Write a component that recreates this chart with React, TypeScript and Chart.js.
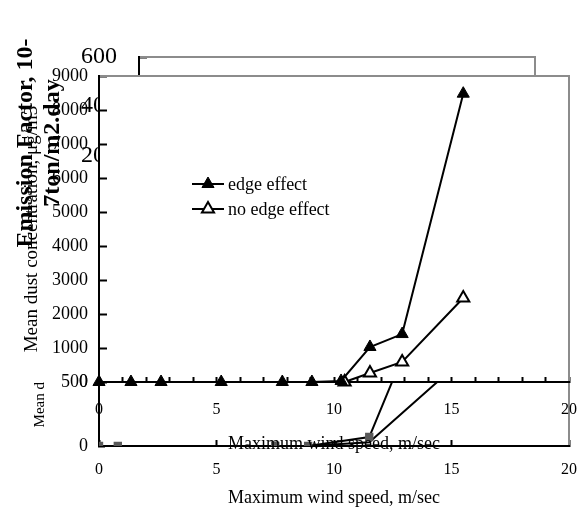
import React, { useEffect, useRef } from 'react';
import { Chart, registerables } from 'chart.js';

Chart.register(...registerables);

const FONT = "'Liberation Serif', 'Times New Roman', serif";

// Panel A: mean dust concentration vs wind speed
const windEdge = [0, 1.36, 2.64, 5.2, 7.8, 9.06, 10.3, 11.53, 12.9, 15.5];
const dustEdge = [0, 0, 0, 0, 0, 0, 30, 1030, 1410, 8480];
const windNoEdge = [10.45, 11.53, 12.9, 15.5];
const dustNoEdge = [0, 265, 590, 2470];
const dustTicks = [0, 1000, 2000, 3000, 4000, 5000, 6000, 7000, 8000, 9000];
const windMinorTicks = [0, 1, 2, 3, 4, 5, 6, 7, 8, 9, 10, 11, 12, 13, 14, 15, 16, 17, 18, 19, 20];
const windTickLabels = ['0', '5', '10', '15', '20'];

// Panel B: emission factor (lower strip)
const windB = [0, 0.8, 7.5, 8.9, 11.5, 12.9, 15.5];
const emisB = [0, 0, 0, 0, 70, 690, 3000];
const windB2 = [8.9, 11.5, 15.5];
const emisB2 = [0, 30, 680];
const emisBTicks = [0, 500];
const windMajorTicks = [0, 5, 10, 15, 20];

// Panel C: emission factor (upper panel, mostly hidden)
const emisCTicks = [0, 200, 400, 600];

const pts = (xs: number[], ys: number[]) => xs.map((x, i) => ({ x, y: ys[i] }));

const GRAY = '#8c8c8c';

function framePlugin(fillWhite: boolean, drawTop: boolean) {
  return {
    id: 'frame',
    beforeDraw(chart: any) {
      if (!fillWhite) return;
      const { left, top, width, height } = chart.chartArea;
      const ctx = chart.ctx;
      ctx.save();
      ctx.fillStyle = '#fff';
      ctx.fillRect(left, top, width, height);
      ctx.restore();
    },
    beforeDatasetsDraw(chart: any) {
      const { left, top, right, bottom } = chart.chartArea;
      const ctx = chart.ctx;
      ctx.save();
      ctx.strokeStyle = GRAY;
      ctx.lineWidth = 2;
      ctx.beginPath();
      if (drawTop) {
        ctx.moveTo(left + 1, top);
        ctx.lineTo(right, top);
      } else {
        ctx.moveTo(right, top);
      }
      ctx.lineTo(right, bottom - 1);
      ctx.stroke();
      ctx.restore();
    },
  };
}

function triangle(ctx: CanvasRenderingContext2D, x: number, y: number, r: number) {
  let rad = 0;
  ctx.beginPath();
  ctx.moveTo(x + Math.sin(rad) * r, y - Math.cos(rad) * r);
  rad += (2 * Math.PI) / 3;
  ctx.lineTo(x + Math.sin(rad) * r, y - Math.cos(rad) * r);
  rad += (2 * Math.PI) / 3;
  ctx.lineTo(x + Math.sin(rad) * r, y - Math.cos(rad) * r);
  ctx.closePath();
}

const legendPlugin = {
  id: 'innerLegend',
  afterDraw(chart: any) {
    const { left, top } = chart.chartArea;
    const ctx = chart.ctx;
    ctx.save();
    chart.data.datasets.forEach((ds: any, i: number) => {
      const x0 = left + 93;
      const y = top + 108 + i * 25;
      ctx.strokeStyle = '#000';
      ctx.lineWidth = 2;
      ctx.beginPath();
      ctx.moveTo(x0, y);
      ctx.lineTo(x0 + 32, y);
      ctx.stroke();
      triangle(ctx, x0 + 16, y, 7);
      ctx.fillStyle = ds.pointBackgroundColor;
      ctx.fill();
      ctx.lineWidth = ds.pointBorderWidth;
      ctx.stroke();
      ctx.fillStyle = '#000';
      ctx.font = `18px ${FONT}`;
      ctx.textBaseline = 'middle';
      ctx.textAlign = 'left';
      ctx.fillText(ds.label, x0 + 36, y + 1);
    });
    ctx.restore();
  },
};

const noSidePad = (s: any) => {
  s.paddingLeft = 0;
  s.paddingRight = 0;
};

export default function App() {
  const refA = useRef<HTMLCanvasElement>(null);
  const refB = useRef<HTMLCanvasElement>(null);
  const refC = useRef<HTMLCanvasElement>(null);

  useEffect(() => {
    Chart.defaults.font.family = FONT;
    Chart.defaults.color = '#000';

    const noUi = { legend: { display: false }, tooltip: { enabled: false } };
    const plain = (v: any) => String(v);

    // ---------- Panel C (back) ----------
    const chartC = new Chart(refC.current!, {
      type: 'line',
      data: { datasets: [] },
      options: {
        responsive: false,
        animation: false,
        layout: { padding: { top: 57, right: 48, left: 0, bottom: 0 } },
        plugins: noUi as any,
        scales: {
          x: {
            type: 'linear',
            min: 0,
            max: 20,
            ticks: { display: false },
            grid: { display: false },
            border: { color: '#000', width: 2 },
            afterFit: (s: any) => { s.height = 284; noSidePad(s); },
          },
          y: {
            min: -100,
            max: 600,
            afterBuildTicks: (s: any) => { s.ticks = emisCTicks.map((v) => ({ value: v })); },
            ticks: { color: '#000', font: { size: 24 }, padding: 30, callback: plain },
            grid: { drawOnChartArea: false, tickLength: -8, color: '#000', tickWidth: 2 },
            border: { color: '#000', width: 2 },
            title: {
              display: true,
              text: ['Emission Factor, 10-', '7ton/m2.day'],
              color: '#000',
              font: { size: 24, weight: 'bold', lineHeight: 1.12 },
              padding: { top: 12, bottom: 0 },
            },
            afterFit: (s: any) => { s.width = 139; },
          },
        },
      },
      plugins: [framePlugin(false, true)],
    } as any);

    // ---------- Panel B (lower strip) ----------
    const chartB = new Chart(refB.current!, {
      type: 'line',
      data: {
        datasets: [
          {
            label: 'edge effect',
            data: pts(windB, emisB),
            borderColor: '#000',
            borderWidth: 2,
            pointStyle: 'rect',
            pointRadius: 4.5,
            pointBackgroundColor: '#595959',
            pointBorderColor: '#595959',
            tension: 0,
          },
          {
            label: 'no edge effect',
            data: pts(windB2, emisB2),
            borderColor: '#000',
            borderWidth: 2,
            pointRadius: 0,
            tension: 0,
          },
        ],
      },
      options: {
        responsive: false,
        animation: false,
        layout: { padding: { top: 382, right: 14, left: 0, bottom: 0 } },
        plugins: noUi as any,
        scales: {
          x: {
            type: 'linear',
            min: 0,
            max: 20,
            afterBuildTicks: (s: any) => { s.ticks = windMajorTicks.map((v) => ({ value: v })); },
            ticks: { color: '#000', font: { size: 16 }, padding: 20, maxRotation: 0, autoSkip: false, callback: plain },
            grid: { drawOnChartArea: false, tickLength: -6, color: '#000', tickWidth: 2 },
            border: { color: '#000', width: 2 },
            title: {
              display: true,
              text: 'Maximum wind speed, m/sec',
              color: '#000',
              font: { size: 18 },
              padding: { top: 0, bottom: 4 },
            },
            afterFit: (s: any) => { s.height = 67; noSidePad(s); },
          },
          y: {
            min: 0,
            max: 500,
            afterBuildTicks: (s: any) => { s.ticks = emisBTicks.map((v) => ({ value: v })); },
            ticks: { color: '#000', font: { size: 18 }, padding: 17, callback: plain },
            grid: { drawOnChartArea: false, tickLength: -6, color: '#000', tickWidth: 2 },
            border: { color: '#000', width: 2 },
            title: {
              display: true,
              text: 'Mean d',
              align: 'end',
              color: '#000',
              font: { size: 15 },
              padding: { top: 31, bottom: 0 },
            },
            afterFit: (s: any) => { s.width = 99; },
          },
        },
      },
      plugins: [framePlugin(false, false)],
    } as any);

    // ---------- Panel A (front) ----------
    const chartA = new Chart(refA.current!, {
      type: 'line',
      data: {
        datasets: [
          {
            label: 'edge effect',
            data: pts(windEdge, dustEdge),
            borderColor: '#000',
            borderWidth: 2,
            pointStyle: 'triangle',
            pointRadius: 7,
            pointBackgroundColor: '#000',
            pointBorderColor: '#000',
            pointBorderWidth: 1,
            tension: 0,
            clip: false,
          },
          {
            label: 'no edge effect',
            data: pts(windNoEdge, dustNoEdge),
            borderColor: '#000',
            borderWidth: 2,
            pointStyle: 'triangle',
            pointRadius: 7,
            pointBackgroundColor: '#fff',
            pointBorderColor: '#000',
            pointBorderWidth: 2,
            tension: 0,
            clip: false,
          },
        ],
      },
      options: {
        responsive: false,
        animation: false,
        layout: { padding: { top: 76, right: 14, left: 0, bottom: 0 } },
        plugins: noUi as any,
        scales: {
          x: {
            type: 'linear',
            min: 0,
            max: 20,
            afterBuildTicks: (s: any) => { s.ticks = windMinorTicks.map((v) => ({ value: v })); },
            ticks: {
              color: '#000',
              font: { size: 16 },
              padding: 23,
              maxRotation: 0,
              autoSkip: false,
              callback: (v: any) => (windTickLabels.includes(String(v)) ? String(v) : ''),
            },
            grid: { drawOnChartArea: false, tickLength: -5, color: '#000', tickWidth: 2 },
            border: { color: '#000', width: 2 },
            title: {
              display: true,
              text: 'Maximum wind speed, m/sec',
              color: '#000',
              font: { size: 18 },
              padding: { top: 0, bottom: 58 },
            },
            afterFit: (s: any) => { s.height = 131; noSidePad(s); },
          },
          y: {
            min: 0,
            max: 9000,
            afterBuildTicks: (s: any) => { s.ticks = dustTicks.map((v) => ({ value: v })); },
            ticks: { color: '#000', font: { size: 18 }, padding: 19, callback: plain },
            grid: { drawOnChartArea: false, tickLength: -8, color: '#000', tickWidth: 2 },
            border: { color: '#000', width: 2 },
            title: {
              display: true,
              text: 'Mean dust concentration, μg/m3',
              color: '#000',
              font: { size: 19 },
              padding: { top: 21, bottom: 0 },
            },
            afterFit: (s: any) => { s.width = 99; },
          },
        },
      },
      plugins: [framePlugin(true, true), legendPlugin],
    } as any);

    return () => {
      chartA.destroy();
      chartB.destroy();
      chartC.destroy();
    };
  }, []);

  const cv: React.CSSProperties = { position: 'absolute', left: 0, top: 0, width: 583, height: 513 };
  return (
    <div style={{ position: 'fixed', left: 0, top: 0, width: 583, height: 513, background: '#fff' }}>
      <canvas ref={refC} width={583} height={513} style={cv} />
      <canvas ref={refB} width={583} height={513} style={cv} />
      <canvas ref={refA} width={583} height={513} style={cv} />
    </div>
  );
}
